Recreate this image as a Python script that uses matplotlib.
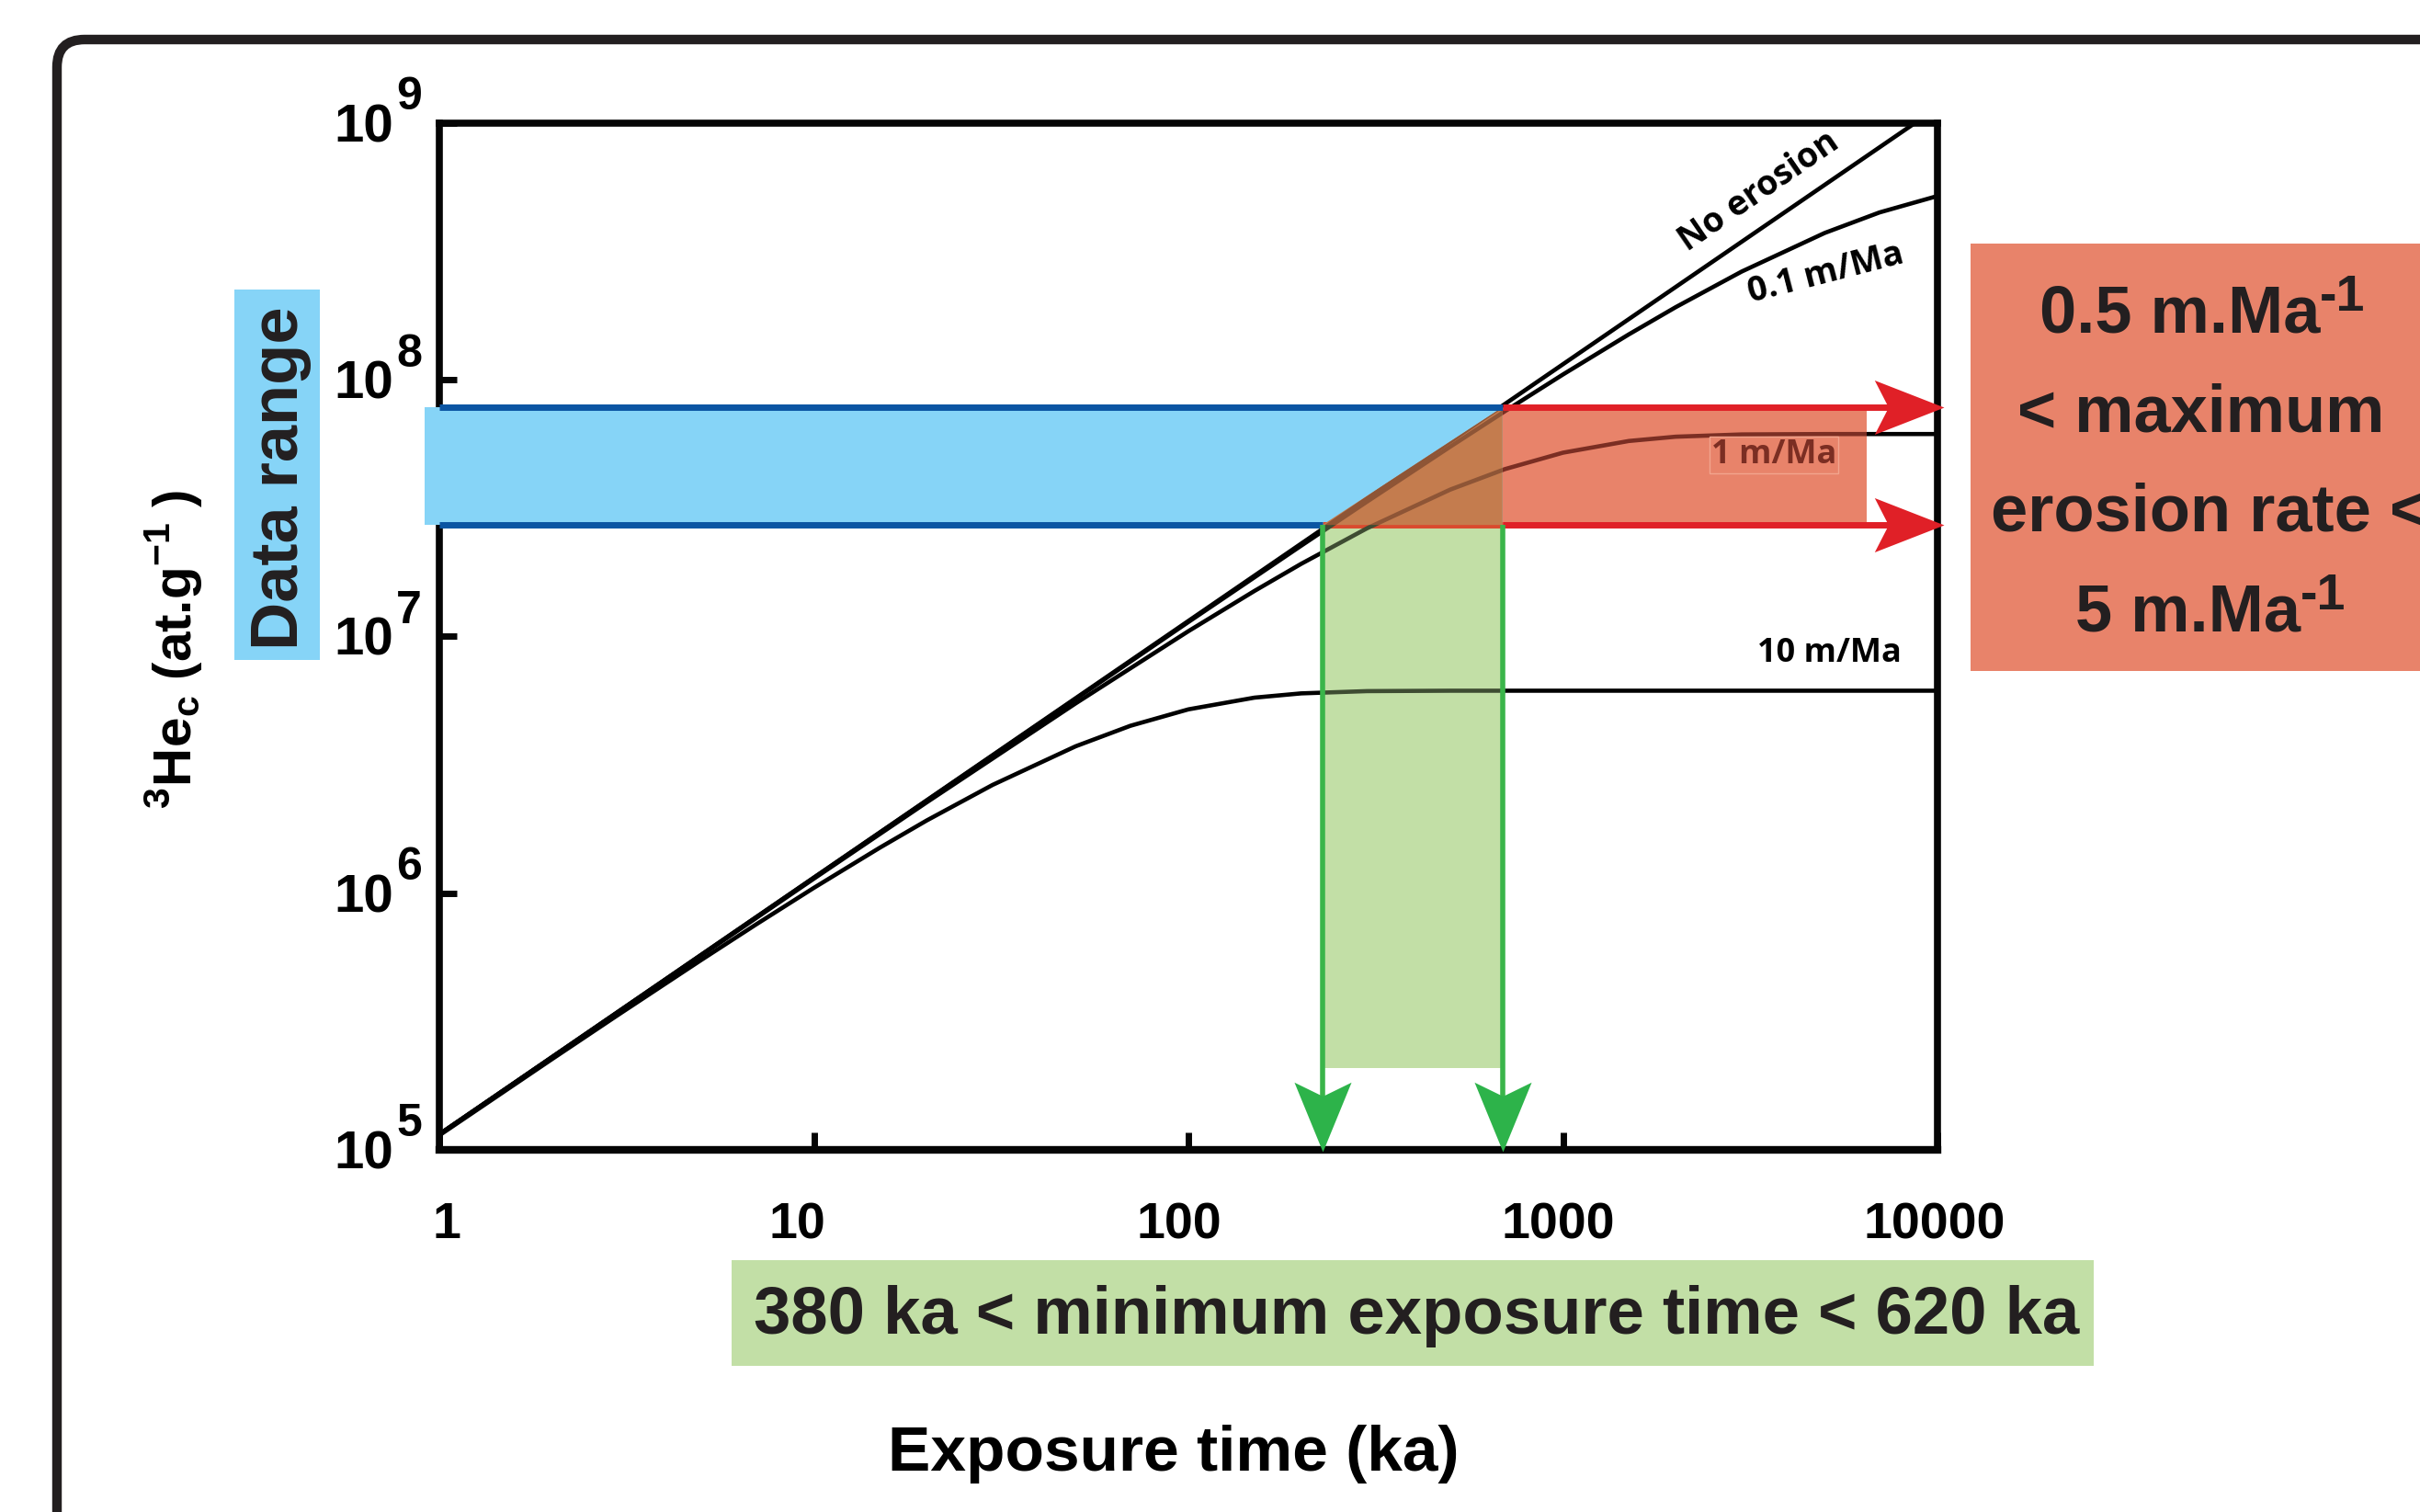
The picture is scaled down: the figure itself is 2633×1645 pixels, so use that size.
import matplotlib
matplotlib.use("Agg")
import matplotlib.pyplot as plt
from matplotlib.patches import Rectangle, Polygon, FancyBboxPatch
from matplotlib.path import Path
from matplotlib.transforms import IdentityTransform
from matplotlib.ticker import FixedLocator, NullLocator, NullFormatter

# ------------------------------------------------------------------ data
time_no_erosion = [1, 10, 100, 1000, 10000]
conc_no_erosion = [1.15e5, 1.15e6, 1.15e7, 1.15e8, 1.15e9]

time_01 = [1, 10, 100, 200, 300, 500, 700, 1000, 1500, 2000, 3000, 5000, 7000, 10000]
conc_01 = [1.15e5, 1.149e6, 1.139e7, 2.258e7, 3.355e7, 5.489e7, 7.545e7, 1.049e8,
           1.504e8, 1.919e8, 2.641e8, 3.735e8, 4.489e8, 5.202e8]

time_1 = [1, 10, 20, 50, 100, 150, 200, 300, 500, 700, 1000, 1500, 2000, 3000, 5000, 10000]
conc_1 = [1.15e5, 1.139e6, 2.258e6, 5.489e6, 1.049e7, 1.504e7, 1.919e7, 2.641e7,
          3.735e7, 4.489e7, 5.202e7, 5.778e7, 6.004e7, 6.127e7, 6.149e7, 6.15e7]

time_10 = [1, 2, 3, 5, 7, 10, 15, 20, 30, 50, 70, 100, 150, 200, 300, 500, 1000, 10000]
conc_10 = [1.139e5, 2.258e5, 3.355e5, 5.489e5, 7.545e5, 1.049e6, 1.504e6, 1.919e6,
           2.641e6, 3.735e6, 4.489e6, 5.202e6, 5.778e6, 6.004e6, 6.127e6, 6.149e6,
           6.15e6, 6.15e6]

curve_labels = ["No erosion", "0.1 m/Ma", "1 m/Ma", "10 m/Ma"]

data_range = [2.72e7, 7.82e7]          # 3He concentration range (at/g)
time_range = [228, 690]                # exposure-time range (ka)
green_box_bottom = 2.08e5
red_box_right = 6470
blue_box_left = 0.914
arrow_tip_time = 10400
arrow_shaft_time = 8000
arrow_tip_conc = 9.8e4
arrow_shaft_conc = 1.4e5

x_tick_values = [1, 10, 100, 1000, 10000]
x_tick_labels = ["1", "10", "100", "1000", "10000"]
x_tick_nudge_px = [8, -18, -10, -5, -3]
y_tick_values = [1e5, 1e6, 1e7, 1e8, 1e9]
y_tick_exponents = ["5", "6", "7", "8", "9"]

# ------------------------------------------------------------------ style
plt.rcParams["mathtext.fontset"] = "custom"
plt.rcParams["mathtext.bf"] = "Liberation Sans:bold"
plt.rcParams["mathtext.rm"] = "Liberation Sans:bold"
W, H = 2633, 1645
PT = 0.72  # points per pixel at dpi 100
TXT = "#231F20"
BLUE_FILL, BLUE_LINE = "#86D4F7", "#0B55A3"
RED_LINE, SALMON = "#E02027", "#E8836A"
GREEN_FILL, GREEN_LINE, GREEN_HEAD = "#C2DFA6", "#3AB54A", "#2DB34A"
BROWN = "#C47C4E"
BOLD = dict(family="Liberation Sans", weight="bold")
LBL = dict(family="Open Sans", weight="bold")
CURVE_LW = 3.3


def fx(x):
    return x / W


def fy(y):
    return 1 - y / H


fig = plt.figure(figsize=(W / 100, H / 100), dpi=100)
fig.patch.set_facecolor("white")

ax = fig.add_axes([fx(478), fy(1251), (2108 - 478) / W, (1251 - 134) / H])
ax.set_xscale("log")
ax.set_yscale("log")
ax.set_xlim(1, 1e4)
ax.set_ylim(1e5, 1e9)
for s in ax.spines.values():
    s.set_linewidth(5.5)
    s.set_color("#050505")
ax.spines["bottom"].set_linewidth(6)

ax.xaxis.set_major_locator(FixedLocator(x_tick_values))
ax.yaxis.set_major_locator(FixedLocator(y_tick_values))
ax.xaxis.set_minor_locator(NullLocator())
ax.yaxis.set_minor_locator(NullLocator())
ax.xaxis.set_major_formatter(NullFormatter())
ax.yaxis.set_major_formatter(NullFormatter())
ax.tick_params(direction="in", length=14, width=5, color="#050505",
               top=False, right=False)

# ------------------------------------------------------------------ curves
curves = [(time_no_erosion, conc_no_erosion), (time_01, conc_01),
          (time_1, conc_1), (time_10, conc_10)]
for t, c in curves:
    ax.plot(t, c, color="black", lw=CURVE_LW, zorder=2, solid_joinstyle="round")

# ------------------------------------------------------------------ shaded ranges
n_low, n_high = data_range
t_low, t_high = time_range

blue_fill = Rectangle((blue_box_left, n_low), t_high - blue_box_left, n_high - n_low,
                      fc=BLUE_FILL, ec="none", zorder=3, clip_on=False)
green_fill = Rectangle((t_low, green_box_bottom), t_high - t_low, n_low - green_box_bottom,
                       fc=GREEN_FILL, ec="none", zorder=3)
salmon_fill = Rectangle((t_high, n_low), red_box_right - t_high, n_high - n_low,
                        fc=SALMON, ec="none", zorder=3)
brown_fill = Polygon([(t_low, n_low), (t_high, n_high), (t_high, n_low)], closed=True,
                     fc=BROWN, ec="none", zorder=4)
for p in (blue_fill, green_fill, salmon_fill, brown_fill):
    ax.add_patch(p)

# curves seen through the coloured overlays
for patch, col in [(green_fill, "#3E4C32"), (salmon_fill, "#7B2E23"), (brown_fill, "#8E5536")]:
    for t, c in curves:
        ln, = ax.plot(t, c, color=col, lw=CURVE_LW, zorder=4.5)
        ln.set_clip_path(patch)

# red strip under the triangle base
ax.plot([t_low, t_high], [n_low, n_low], color="#DA4A2E", lw=5, zorder=3.5,
        solid_capstyle="butt")

# blue range lines
ax.plot([1, t_high], [n_high, n_high], color=BLUE_LINE, lw=5, zorder=6, solid_capstyle="butt")
ax.plot([1, t_low], [n_low, n_low], color=BLUE_LINE, lw=5, zorder=6, solid_capstyle="butt")

# red arrows (erosion-rate range)
right_head = Path([(0, 0), (-1, 0.39), (-0.8, 0), (-1, -0.39), (0, 0)],
                  [Path.MOVETO, Path.LINETO, Path.LINETO, Path.LINETO, Path.CLOSEPOLY])
for n in data_range:
    ax.plot([t_high, arrow_shaft_time], [n, n], color=RED_LINE, lw=5, zorder=6,
            solid_capstyle="butt", clip_on=False)
    ax.plot([arrow_tip_time], [n], marker=right_head, ms=109, mfc=RED_LINE, mec="none",
            mew=0, ls="none", zorder=7, clip_on=False)

# green arrows (exposure-time range)
down_head = Path([(0, 0), (0.41, 1), (0, 0.8), (-0.41, 1), (0, 0)],
                 [Path.MOVETO, Path.LINETO, Path.LINETO, Path.LINETO, Path.CLOSEPOLY])
for t in time_range:
    ax.plot([t, t], [n_low, arrow_shaft_conc], color=GREEN_LINE, lw=4, zorder=6,
            solid_capstyle="butt", clip_on=False)
    ax.plot([t], [arrow_tip_conc], marker=down_head, ms=109, mfc=GREEN_HEAD, mec="none",
            mew=0, ls="none", zorder=7, clip_on=False)

# ------------------------------------------------------------------ tick labels
for t, lab, nd in zip(x_tick_values, x_tick_labels, x_tick_nudge_px):
    ax.annotate(lab, xy=(t, 0), xycoords=("data", "axes fraction"),
                xytext=(nd * PT, -(1347 - 1251) * PT), textcoords="offset points",
                ha="center", va="baseline", fontsize=40, color="black",
                annotation_clip=False, **BOLD)
for v, e in zip(y_tick_values, y_tick_exponents):
    ax.annotate("10", xy=(0, v), xycoords=("axes fraction", "data"),
                xytext=(-50 * PT, -20.5 * PT), textcoords="offset points",
                ha="right", va="baseline", fontsize=42, color="black",
                annotation_clip=False, **BOLD)
    ax.annotate(e, xy=(0, v), xycoords=("axes fraction", "data"),
                xytext=(-47 * PT, 14.5 * PT), textcoords="offset points",
                ha="left", va="baseline", fontsize=36, color="black",
                annotation_clip=False, **BOLD)

# ------------------------------------------------------------------ axis labels
ax.set_ylabel(r"$^{\mathbf{3}}$He$_{\mathbf{c}}$ (at.g$^{\mathbf{-1}}$ )", fontsize=42,
              va="baseline", color="black", **BOLD)
ax.yaxis.set_label_coords((209 - 478) / 1630, (1251 - 706.5) / 1117)
ax.set_xlabel("Exposure time (ka)", fontsize=50, ha="left", va="baseline",
              color="black", **BOLD)
ax.xaxis.set_label_coords((966 - 478) / 1630, (1251 - 1600) / 1117)

# ------------------------------------------------------------------ curve labels
fig.text(fx(1914), fy(208), curve_labels[0], rotation=34.5, rotation_mode="anchor",
         ha="center", va="center", fontsize=27, color="black", **LBL)
fig.text(fx(1987), fy(298), curve_labels[1], rotation=14.5, rotation_mode="anchor",
         ha="center", va="center", fontsize=27, color="black", **LBL)
fig.text(fx(1930), fy(495), curve_labels[2], ha="center", va="center", fontsize=26,
         color="#7B2E23", zorder=8,
         bbox=dict(boxstyle="square,pad=0.05", fc="none", ec="#F2A58E", lw=1), **LBL)
fig.text(fx(1990), fy(711), curve_labels[3], ha="center", va="center", fontsize=26,
         color="black", **LBL)


# ------------------------------------------------------------------ annotation boxes
def fig_rect(x0, y0, x1, y1, color):
    r = Rectangle((fx(x0), fy(y1)), (x1 - x0) / W, (y1 - y0) / H,
                  transform=fig.transFigure, fc=color, ec="none", zorder=0.5)
    fig.add_artist(r)


fig_rect(255, 315, 348, 718, BLUE_FILL)
fig.text(fx(324), fy(520.5), "Data range", rotation=90, rotation_mode="anchor",
         ha="center", va="baseline", fontsize=52, color=TXT, zorder=2, **BOLD)

fig_rect(796, 1371, 2278, 1486, GREEN_FILL)
fig.text(fx(820), fy(1451), "380 ka < minimum exposure time < 620 ka", ha="left",
         va="baseline", fontsize=52.2, color=TXT, zorder=2, **BOLD)

fig_rect(2144, 265, 2700, 730, SALMON)
red_lines = [("0.5 m.Ma", "-1", 2219, 362),
             ("< maximum", "", 2195, 470),
             ("erosion rate <", "", 2166, 578),
             ("5 m.Ma", "-1", 2258, 687)]
red_texts = []
for s, sup, x, y in red_lines:
    t = fig.text(fx(x), fy(y), s, ha="left", va="baseline", fontsize=52, color=TXT,
                 zorder=2, **BOLD)
    red_texts.append((t, sup, y))

# superscripts placed right after the measured main text
fig.canvas.draw()
renderer = fig.canvas.get_renderer()
for t, sup, y in red_texts:
    if not sup:
        continue
    bb = t.get_window_extent(renderer)
    fig.text(bb.x1 / W, (H - y + 24) / H, sup, ha="left", va="baseline", fontsize=40,
             color=TXT, zorder=2, **BOLD)

# ------------------------------------------------------------------ outer rounded frame
frame = FancyBboxPatch((62, -100), 2800, (H - 43) + 100,
                       boxstyle="round,pad=0,rounding_size=30",
                       transform=IdentityTransform(), fill=False,
                       ec="#231F20", lw=7.5, zorder=10)
fig.add_artist(frame)

fig.savefig("out.png", dpi=100, facecolor="white")
